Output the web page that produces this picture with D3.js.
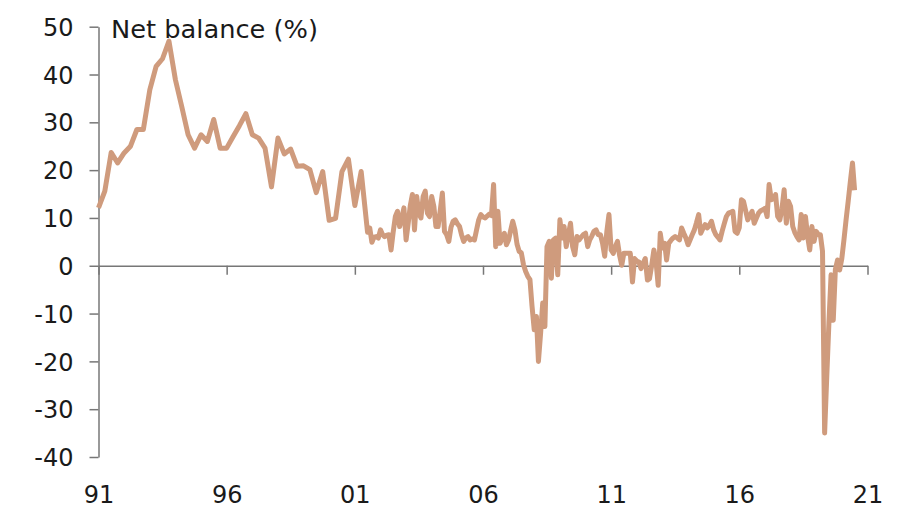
<!DOCTYPE html>
<html>
<head>
<meta charset="utf-8">
<script src="https://cdn.jsdelivr.net/npm/d3@7"></script>
<style>
  html, body { margin: 0; padding: 0; background: #fff; }
  svg { display: block; font-family: "DejaVu Sans", sans-serif; }
</style>
</head>
<body>
<svg id="chart" width="907" height="509"></svg>
<script>
// Axis ticks
const yTicks = [50, 40, 30, 20, 10, 0, -10, -20, -30, -40];
const xTickYears = [1991, 1996, 2001, 2006, 2011, 2016, 2021];
const titleText = "Net balance (%)";

// Quarterly readings, 1991 Q1 to 2001 Q2
const quarterlyStart = [1991, 0];
const quarterlyBalance = [
  12.1, 15.6, 23.7, 21.5, 23.6, 25.0, 28.5, 28.5, 36.8, 41.7, 43.3, 47.0,
  38.9, 33.3, 27.4, 24.6, 27.4, 26.0, 30.6, 24.6, 24.6, 27.0, 29.3, 31.8,
  27.4, 26.7, 24.6, 16.5, 26.7, 23.4, 24.4, 20.8, 20.9, 20.1, 15.3, 19.7,
  9.5, 9.9, 19.7, 22.3, 12.6, 19.7
];

// Monthly readings, July 2001 to July 2020
const monthlyStart = [2001, 6];
const monthlyBalance = [
  7.0, 7.9, 4.9, 6.0, 6.1, 5.8, 7.5, 6.5, 6.1, 6.4, 6.5, 3.3,
  7.0, 10.3, 11.4, 8.2, 10.0, 12.1, 5.4, 9.0, 12.5, 14.9, 7.5, 14.5,
  11.0, 10.0, 14.5, 15.6, 11.0, 10.3, 14.5, 12.4, 8.2, 8.2, 11.5, 15.2,
  7.2, 6.5, 5.1, 8.0, 9.3, 9.6, 8.8, 8.2, 6.5, 5.1, 5.8, 6.1,
  5.4, 5.6, 5.4, 7.5, 9.6, 10.7, 10.2, 10.0, 10.4, 10.8, 10.5, 17.0,
  4.0, 11.4, 4.7, 5.8, 6.8, 4.4, 5.4, 7.5, 9.3, 7.5, 4.5, 3.0,
  2.7, 0.2, -1.2, -2.2, -2.9, -8.5, -13.4, -10.6, -20.0, -14.1, -7.8, -12.7,
  4.0, 5.1, -2.6, 5.4, 5.8, -1.9, 9.6, 5.8, 8.2, 4.0, 6.5, 8.9,
  4.0, 2.3, 6.1, 5.4, 6.0, 6.5, 6.8, 4.0, 5.4, 6.2, 7.2, 7.5,
  6.5, 6.5, 4.7, 2.0, 7.2, 10.7, 3.3, 2.6, 4.0, 5.1, 2.2, 0.1,
  2.6, 2.6, 2.6, 2.6, -3.4, 1.5, 1.0, 0.8, -0.6, 0.5, 1.5, -3.0,
  -2.7, 0.1, 3.3, 1.0, -4.1, 6.8, 3.7, 4.7, 1.2, 4.7, 5.3, 5.8,
  6.1, 5.8, 5.4, 7.9, 6.8, 5.8, 4.4, 5.5, 6.5, 7.5, 9.0, 10.7,
  6.8, 7.8, 8.6, 7.9, 8.5, 9.3, 7.5, 6.5, 6.0, 5.4, 7.2, 8.8,
  10.3, 11.0, 11.2, 11.4, 7.2, 6.8, 8.0, 13.8, 13.5, 11.5, 9.6, 10.5,
  11.4, 8.9, 10.0, 11.0, 11.5, 11.7, 12.0, 10.3, 17.0, 13.8, 14.0, 14.9,
  10.3, 9.6, 12.0, 15.9, 8.9, 13.5, 12.4, 8.2, 7.0, 6.1, 5.4, 10.7,
  5.8, 10.3, 6.1, 3.3, 8.2, 5.1, 7.2, 6.5, 6.5, 3.0, -35.0, -23.0,
  -12.0, -1.9, -11.4, -0.8, 1.2, -0.9, 1.5, 5.5, 9.5, 13.5, 17.5, 21.5,
  15.8
];

// Join both frequencies into one dated series
const q0 = new Date(quarterlyStart[0], quarterlyStart[1], 1);
const m0 = new Date(monthlyStart[0], monthlyStart[1], 1);
const series = quarterlyBalance.map((v, i) => ({ date: d3.timeMonth.offset(q0, 3 * i), value: v }))
  .concat(monthlyBalance.map((v, i) => ({ date: d3.timeMonth.offset(m0, i), value: v })));

const svg = d3.select("#chart");
const axisColor = "#777";
const textColor = "#1a1a1a";
const fontSize = 24;

const x = d3.scaleTime()
  .domain([new Date(1991, 0, 1), new Date(2021, 0, 1)])
  .range([98.5, 867.5]);
const y = d3.scaleLinear().domain([-40, 50]).range([457, 26.7]);

// Y axis
const gy = svg.append("g")
  .attr("transform", `translate(${x.range()[0]},0)`)
  .call(d3.axisLeft(y).tickValues(yTicks).tickSize(9).tickSizeOuter(0).tickPadding(16)
    .tickFormat(d => String(d)));
gy.select(".domain").attr("stroke", axisColor).attr("stroke-width", 1.5);
gy.selectAll(".tick line").attr("stroke", axisColor).attr("stroke-width", 1.5);
gy.selectAll(".tick text")
  .attr("fill", textColor).attr("font-size", fontSize)
  .attr("font-family", "DejaVu Sans, sans-serif").attr("dy", "0.36em");

// X axis along zero, with year labels along the bottom
const y0 = y(0);
const labelBaseline = 503;
const gx = svg.append("g")
  .attr("transform", `translate(0,${y0})`)
  .call(d3.axisBottom(x).tickValues(xTickYears.map(yr => new Date(yr, 0, 1)))
    .tickSize(9).tickSizeOuter(0).tickFormat(d3.timeFormat("%y")));
gx.select(".domain").attr("stroke", axisColor).attr("stroke-width", 1.5);
gx.selectAll(".tick line").attr("stroke", axisColor).attr("stroke-width", 1.5);
gx.selectAll(".tick text")
  .attr("fill", textColor).attr("font-size", fontSize)
  .attr("font-family", "DejaVu Sans, sans-serif")
  .attr("y", labelBaseline - y0).attr("dy", 0);

// Title inside the plot, top left
svg.append("text")
  .attr("x", 111).attr("y", 37.5)
  .attr("fill", textColor).attr("font-size", fontSize)
  .attr("textLength", 207).attr("lengthAdjust", "spacingAndGlyphs")
  .text(titleText);

// Series line
const line = d3.line().x(d => x(d.date)).y(d => y(d.value));
svg.append("path")
  .datum(series)
  .attr("fill", "none")
  .attr("stroke", "#cf9b7d")
  .attr("stroke-width", 5)
  .attr("stroke-linejoin", "round")
  .attr("d", line);
</script>
</body>
</html>
